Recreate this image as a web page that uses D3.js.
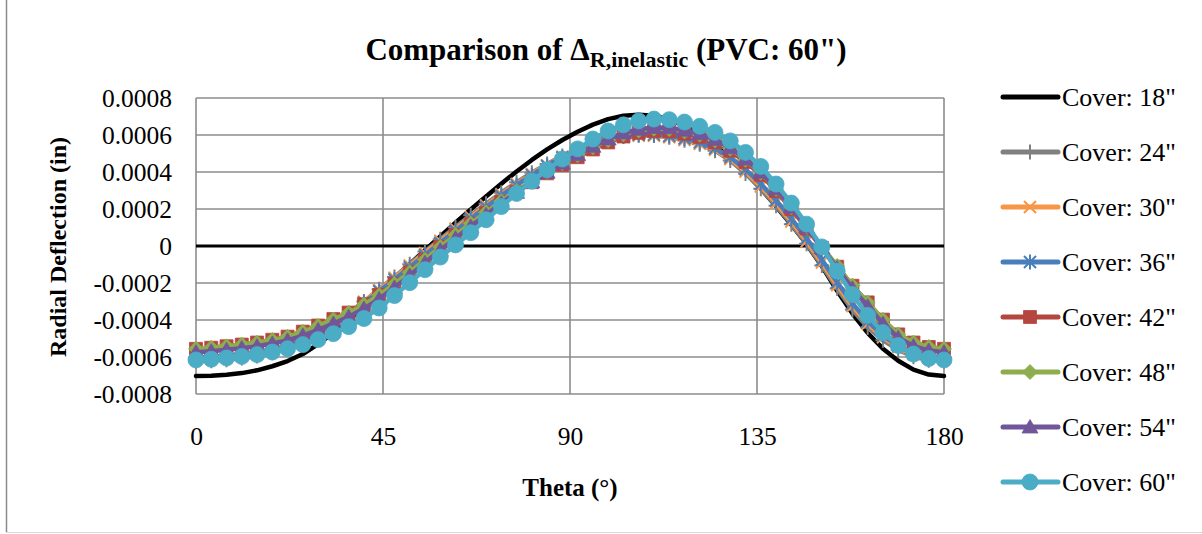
<!DOCTYPE html>
<html>
<head>
<meta charset="utf-8">
<script src="https://cdn.jsdelivr.net/npm/d3@7"></script>
<style>
  body { margin: 0; background: #fff; }
  svg { display: block; }
  text { font-family: "Liberation Serif", "Times New Roman", serif; fill: #000; }
</style>
</head>
<body>
<svg id="chart" width="1202" height="534"></svg>
<script>
// Angle around the pipe (degrees)
const theta = [0, 3.67, 7.35, 11.02, 14.69, 18.37, 22.04, 25.71, 29.39, 33.06,
  36.73, 40.41, 44.08, 47.76, 51.43, 55.1, 58.78, 62.45, 66.12, 69.8,
  73.47, 77.14, 80.82, 84.49, 88.16, 91.84, 95.51, 99.18, 102.86, 106.53,
  110.2, 113.88, 117.55, 121.22, 124.9, 128.57, 132.24, 135.92, 139.59, 143.27,
  146.94, 150.61, 154.29, 157.96, 161.63, 165.31, 168.98, 172.65, 176.33, 180];

// Inelastic radial deflection (in) for each cover depth
const cover18 = [-7.03e-4, -7.01e-4, -6.96e-4, -6.87e-4, -6.72e-4, -6.50e-4, -6.22e-4, -5.84e-4, -5.30e-4, -4.70e-4,
  -4.02e-4, -3.28e-4, -2.52e-4, -1.75e-4, -0.98e-4, -0.22e-4, 0.52e-4, 1.26e-4, 1.98e-4, 2.68e-4,
  3.37e-4, 4.03e-4, 4.65e-4, 5.22e-4, 5.73e-4, 6.18e-4, 6.56e-4, 6.86e-4, 7.04e-4, 7.10e-4,
  7.04e-4, 6.84e-4, 6.50e-4, 6.03e-4, 5.45e-4, 4.76e-4, 3.97e-4, 3.10e-4, 2.15e-4, 1.15e-4,
  0.10e-4, -1.10e-4, -2.42e-4, -3.65e-4, -4.70e-4, -5.55e-4, -6.20e-4, -6.68e-4, -6.95e-4, -7.03e-4];

const cover24 = [-6.22e-4, -6.20e-4, -6.15e-4, -6.06e-4, -5.94e-4, -5.77e-4, -5.54e-4, -5.22e-4, -4.78e-4, -4.24e-4,
  -3.64e-4, -3.00e-4, -2.34e-4, -1.67e-4, -0.98e-4, -0.30e-4, 0.37e-4, 1.02e-4, 1.66e-4, 2.28e-4,
  2.88e-4, 3.44e-4, 3.96e-4, 4.43e-4, 4.87e-4, 5.24e-4, 5.56e-4, 5.78e-4, 5.92e-4, 5.98e-4,
  5.97e-4, 5.88e-4, 5.72e-4, 5.50e-4, 5.15e-4, 4.62e-4, 3.92e-4, 3.10e-4, 2.18e-4, 1.18e-4,
  0.12e-4, -1.05e-4, -2.30e-4, -3.45e-4, -4.40e-4, -5.10e-4, -5.62e-4, -5.98e-4, -6.17e-4, -6.22e-4];

const cover30 = [-6.08e-4, -6.06e-4, -6.01e-4, -5.93e-4, -5.82e-4, -5.66e-4, -5.45e-4, -5.15e-4, -4.73e-4, -4.21e-4,
  -3.63e-4, -3.01e-4, -2.37e-4, -1.72e-4, -1.05e-4, -0.38e-4, 0.28e-4, 0.93e-4, 1.57e-4, 2.19e-4,
  2.80e-4, 3.36e-4, 3.89e-4, 4.37e-4, 4.82e-4, 5.20e-4, 5.52e-4, 5.75e-4, 5.90e-4, 5.96e-4,
  5.96e-4, 5.88e-4, 5.73e-4, 5.52e-4, 5.20e-4, 4.70e-4, 4.02e-4, 3.22e-4, 2.32e-4, 1.32e-4,
  0.26e-4, -0.90e-4, -2.12e-4, -3.25e-4, -4.20e-4, -4.93e-4, -5.48e-4, -5.85e-4, -6.03e-4, -6.08e-4];

const cover36 = [-6.00e-4, -5.98e-4, -5.93e-4, -5.86e-4, -5.76e-4, -5.61e-4, -5.41e-4, -5.13e-4, -4.73e-4, -4.23e-4,
  -3.67e-4, -3.07e-4, -2.45e-4, -1.81e-4, -1.15e-4, -0.49e-4, 0.17e-4, 0.82e-4, 1.47e-4, 2.10e-4,
  2.72e-4, 3.29e-4, 3.83e-4, 4.32e-4, 4.78e-4, 5.17e-4, 5.51e-4, 5.76e-4, 5.93e-4, 6.01e-4,
  6.02e-4, 5.95e-4, 5.81e-4, 5.60e-4, 5.28e-4, 4.80e-4, 4.14e-4, 3.36e-4, 2.47e-4, 1.48e-4,
  0.42e-4, -0.74e-4, -1.96e-4, -3.10e-4, -4.07e-4, -4.83e-4, -5.40e-4, -5.77e-4, -5.96e-4, -6.00e-4];

const cover42 = [-5.56e-4, -5.50e-4, -5.42e-4, -5.33e-4, -5.22e-4, -5.07e-4, -4.90e-4, -4.63e-4, -4.30e-4, -3.95e-4,
  -3.60e-4, -3.15e-4, -2.65e-4, -2.05e-4, -1.42e-4, -0.75e-4, -0.05e-4, 0.58e-4, 1.20e-4, 1.80e-4,
  2.38e-4, 2.93e-4, 3.45e-4, 3.93e-4, 4.38e-4, 4.80e-4, 5.22e-4, 5.60e-4, 5.92e-4, 6.12e-4,
  6.21e-4, 6.20e-4, 6.07e-4, 5.90e-4, 5.60e-4, 5.15e-4, 4.55e-4, 3.85e-4, 2.98e-4, 2.00e-4,
  0.95e-4, -0.10e-4, -1.12e-4, -2.15e-4, -3.05e-4, -3.98e-4, -4.78e-4, -5.22e-4, -5.46e-4, -5.56e-4];

const cover48 = [-5.56e-4, -5.50e-4, -5.42e-4, -5.33e-4, -5.23e-4, -5.08e-4, -4.91e-4, -4.64e-4, -4.32e-4, -3.97e-4,
  -3.62e-4, -3.17e-4, -2.66e-4, -2.05e-4, -1.42e-4, -0.74e-4, -0.05e-4, 0.59e-4, 1.21e-4, 1.82e-4,
  2.42e-4, 2.98e-4, 3.52e-4, 4.01e-4, 4.47e-4, 4.91e-4, 5.34e-4, 5.72e-4, 6.04e-4, 6.24e-4,
  6.34e-4, 6.32e-4, 6.19e-4, 6.02e-4, 5.71e-4, 5.26e-4, 4.66e-4, 3.96e-4, 3.08e-4, 2.09e-4,
  1.03e-4, -0.03e-4, -1.08e-4, -2.14e-4, -3.06e-4, -3.99e-4, -4.78e-4, -5.22e-4, -5.46e-4, -5.56e-4];

const cover54 = [-5.74e-4, -5.69e-4, -5.61e-4, -5.52e-4, -5.42e-4, -5.27e-4, -5.10e-4, -4.84e-4, -4.53e-4, -4.19e-4,
  -3.83e-4, -3.38e-4, -2.86e-4, -2.24e-4, -1.59e-4, -0.91e-4, -0.22e-4, 0.42e-4, 1.06e-4, 1.69e-4,
  2.31e-4, 2.90e-4, 3.47e-4, 3.99e-4, 4.48e-4, 4.94e-4, 5.39e-4, 5.79e-4, 6.11e-4, 6.31e-4,
  6.41e-4, 6.39e-4, 6.26e-4, 6.07e-4, 5.76e-4, 5.31e-4, 4.70e-4, 3.99e-4, 3.09e-4, 2.10e-4,
  1.02e-4, -0.09e-4, -1.19e-4, -2.29e-4, -3.26e-4, -4.19e-4, -4.96e-4, -5.41e-4, -5.65e-4, -5.74e-4];

const cover60 = [-6.16e-4, -6.12e-4, -6.05e-4, -5.97e-4, -5.87e-4, -5.73e-4, -5.55e-4, -5.33e-4, -5.06e-4, -4.74e-4,
  -4.36e-4, -3.92e-4, -3.35e-4, -2.68e-4, -1.98e-4, -1.28e-4, -0.60e-4, 0.06e-4, 0.72e-4, 1.42e-4,
  2.13e-4, 2.84e-4, 3.50e-4, 4.12e-4, 4.70e-4, 5.25e-4, 5.78e-4, 6.22e-4, 6.55e-4, 6.76e-4,
  6.86e-4, 6.83e-4, 6.70e-4, 6.47e-4, 6.14e-4, 5.68e-4, 5.06e-4, 4.30e-4, 3.35e-4, 2.32e-4,
  1.18e-4, -0.05e-4, -1.35e-4, -2.62e-4, -3.75e-4, -4.68e-4, -5.38e-4, -5.84e-4, -6.08e-4, -6.16e-4];

const seriesNames = ['Cover: 18"', 'Cover: 24"', 'Cover: 30"', 'Cover: 36"',
  'Cover: 42"', 'Cover: 48"', 'Cover: 54"', 'Cover: 60"'];
const seriesValues = [cover18, cover24, cover30, cover36, cover42, cover48, cover54, cover60];

const xTicks = [0, 45, 90, 135, 180];
const xTickLabels = ['0', '45', '90', '135', '180'];
const yTicks = [0.0008, 0.0006, 0.0004, 0.0002, 0, -0.0002, -0.0004, -0.0006, -0.0008];
const yTickLabels = ['0.0008', '0.0006', '0.0004', '0.0002', '0', '-0.0002', '-0.0004', '-0.0006', '-0.0008'];

// Styling per series
const seriesColors = ['#000000', '#808080', '#F79646', '#4A7EBB', '#B5463F', '#8DAD4E', '#71569A', '#4BACC6'];
const seriesMarkers = ['none', 'plus', 'cross', 'asterisk', 'square', 'diamond', 'triangle', 'circle'];

const svg = d3.select('#chart');
const plot = { left: 196, right: 944, top: 98, bottom: 394 };
const gridColor = '#8c8c8c';

const x = d3.scaleLinear().domain([0, 180]).range([plot.left, plot.right]);
const y = d3.scaleLinear().domain([-0.0008, 0.0008]).range([plot.bottom, plot.top]);

// Outer chart frame
svg.append('line').attr('x1', 6.5).attr('x2', 6.5).attr('y1', 0).attr('y2', 532)
  .attr('stroke', '#8a8a8a').attr('stroke-width', 1.5);
svg.append('line').attr('x1', 6).attr('x2', 1202).attr('y1', 532.5).attr('y2', 532.5)
  .attr('stroke', '#d9d9d9').attr('stroke-width', 1);

// Gridlines
const grid = svg.append('g');
grid.selectAll('line.h').data(yTicks.filter(d => d !== 0)).join('line')
  .attr('x1', plot.left).attr('x2', plot.right)
  .attr('y1', d => y(d)).attr('y2', d => y(d))
  .attr('stroke', gridColor).attr('stroke-width', 1.6);
grid.selectAll('line.v').data(xTicks).join('line')
  .attr('x1', d => x(d)).attr('x2', d => x(d))
  .attr('y1', plot.top).attr('y2', plot.bottom)
  .attr('stroke', gridColor).attr('stroke-width', 1.6);

// Horizontal axis line at zero
svg.append('line').attr('x1', plot.left).attr('x2', plot.right)
  .attr('y1', y(0)).attr('y2', y(0))
  .attr('stroke', '#000').attr('stroke-width', 3);

// Axes (labels only)
const yAxis = svg.append('g').attr('transform', `translate(${plot.left},0)`)
  .call(d3.axisLeft(y).tickValues(yTicks).tickSize(0).tickPadding(24)
    .tickFormat((d, i) => yTickLabels[i]));
yAxis.select('.domain').remove();
yAxis.selectAll('text').attr('font-size', 25.5).style('font-family', '"Liberation Serif", serif');

const xAxis = svg.append('g').attr('transform', `translate(0,${plot.bottom})`)
  .call(d3.axisBottom(x).tickValues(xTicks).tickSize(0).tickPadding(33)
    .tickFormat((d, i) => xTickLabels[i]));
xAxis.select('.domain').remove();
xAxis.selectAll('text').attr('font-size', 25.5).style('font-family', '"Liberation Serif", serif');

// Marker shapes
function markerPath(type) {
  switch (type) {
    case 'square': return 'M-6.5,-6.5H6.5V6.5H-6.5Z';
    case 'diamond': return 'M0,-7.5L7.5,0L0,7.5L-7.5,0Z';
    case 'triangle': return 'M0,-7.5L8,6L-8,6Z';
    case 'plus': return 'M-7.5,0H7.5M0,-7.5V7.5';
    case 'cross': return 'M-6,-6L6,6M-6,6L6,-6';
    case 'asterisk': return 'M-6,-6L6,6M-6,6L6,-6M0,-7.5V7.5';
    default: return null;
  }
}
function drawMarker(sel, type, color) {
  if (type === 'none') return;
  if (type === 'circle') {
    sel.append('circle').attr('r', 8).attr('fill', color).attr('stroke', color).attr('stroke-width', 0.8);
    return;
  }
  const open = (type === 'plus' || type === 'cross' || type === 'asterisk');
  sel.append('path').attr('d', markerPath(type))
    .attr('fill', open ? 'none' : color)
    .attr('stroke', color)
    .attr('stroke-width', open ? 2 : 0.8);
}

// Series
const line = d3.line().x(d => x(d[0])).y(d => y(d[1]));
seriesValues.forEach((vals, s) => {
  const pts = theta.map((t, i) => [t, vals[i]]);
  const g = svg.append('g');
  g.append('path').datum(pts).attr('d', line)
    .attr('fill', 'none').attr('stroke', seriesColors[s])
    .attr('stroke-width', s === 0 ? 4.5 : 4.5)
    .attr('stroke-linejoin', 'round').attr('stroke-linecap', 'round');
  if (seriesMarkers[s] !== 'none') {
    pts.forEach(p => {
      const m = g.append('g').attr('transform', `translate(${x(p[0])},${y(p[1])})`);
      drawMarker(m, seriesMarkers[s], seriesColors[s]);
    });
  }
});

// Title
const title = svg.append('text').attr('x', 606).attr('y', 60)
  .attr('text-anchor', 'middle').attr('font-weight', 'bold').attr('font-size', 31);
title.append('tspan').text('Comparison of \u0394');
title.append('tspan').attr('font-size', 22).attr('dy', 7).text('R,inelastic');
title.append('tspan').attr('dy', -7).text(' (PVC: 60")');

// Axis titles
svg.append('text').attr('transform', 'translate(66,247) rotate(-90)')
  .attr('text-anchor', 'middle').attr('font-weight', 'bold').attr('font-size', 24)
  .text('Radial Deflection (in)');
svg.append('text').attr('x', 570).attr('y', 496)
  .attr('text-anchor', 'middle').attr('font-weight', 'bold').attr('font-size', 25)
  .text('Theta (\u00B0)');

// Legend
const legend = svg.append('g');
seriesNames.forEach((name, s) => {
  const ly = 97 + s * 55;
  const item = legend.append('g');
  item.append('line').attr('x1', 1003).attr('x2', 1058).attr('y1', ly).attr('y2', ly)
    .attr('stroke', seriesColors[s]).attr('stroke-width', 5).attr('stroke-linecap', 'round');
  const m = item.append('g').attr('transform', `translate(1030,${ly})`);
  drawMarker(m, seriesMarkers[s], seriesColors[s]);
  item.append('text').attr('x', 1062).attr('y', ly).attr('dy', '0.33em')
    .attr('font-size', 26).text(name);
});
</script>
</body>
</html>
